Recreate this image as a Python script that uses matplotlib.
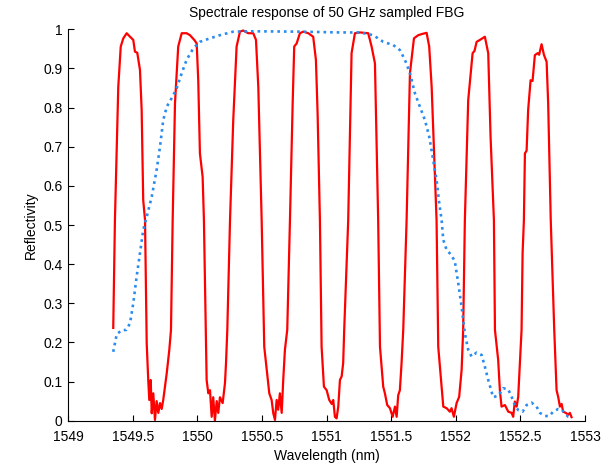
import matplotlib
matplotlib.use("Agg")
import matplotlib.pyplot as plt

# sampled FBG reflectivity (red)
wl_fbg = [1549.348, 1549.361, 1549.387, 1549.406, 1549.426, 1549.452, 1549.478,
          1549.503, 1549.516, 1549.534, 1549.555, 1549.568, 1549.580, 1549.594,
          1549.607, 1549.619, 1549.627, 1549.638, 1549.646, 1549.658, 1549.671,
          1549.684, 1549.697, 1549.710, 1549.723, 1549.735, 1549.762, 1549.782,
          1549.795,
          1549.808, 1549.826, 1549.851, 1549.878, 1549.916, 1549.942, 1549.975,
          1549.994, 1550.006, 1550.019, 1550.040, 1550.050,
          1550.071, 1550.084, 1550.097, 1550.110, 1550.122, 1550.135, 1550.149,
          1550.161, 1550.174, 1550.195, 1550.213, 1550.221, 1550.231,
          1550.252, 1550.277, 1550.303, 1550.329, 1550.354, 1550.393, 1550.432,
          1550.453, 1550.471, 1550.497,
          1550.517, 1550.536, 1550.556, 1550.574, 1550.587, 1550.600, 1550.613,
          1550.625, 1550.638, 1550.652, 1550.664, 1550.677, 1550.695,
          1550.716, 1550.737, 1550.749, 1550.768, 1550.793, 1550.819, 1550.858,
          1550.896, 1550.917, 1550.930, 1550.948,
          1550.961, 1550.979, 1551.000, 1551.020, 1551.039, 1551.051, 1551.064,
          1551.077, 1551.090, 1551.103, 1551.116, 1551.128, 1551.136,
          1551.167, 1551.193, 1551.219, 1551.258, 1551.322, 1551.348, 1551.374,
          1551.399,
          1551.413, 1551.438, 1551.451, 1551.469, 1551.490, 1551.511, 1551.529,
          1551.542, 1551.554, 1551.567, 1551.580, 1551.593,
          1551.619, 1551.645, 1551.676, 1551.709, 1551.738, 1551.774, 1551.794,
          1551.813, 1551.851,
          1551.864, 1551.890, 1551.903, 1551.929, 1551.954, 1551.967, 1551.985,
          1552.006, 1552.026, 1552.045, 1552.057,
          1552.070, 1552.096, 1552.130, 1552.145, 1552.161, 1552.187, 1552.225,
          1552.251, 1552.269, 1552.295,
          1552.303, 1552.328, 1552.341, 1552.354, 1552.380, 1552.406, 1552.432,
          1552.444, 1552.457, 1552.471, 1552.483, 1552.496, 1552.509,
          1552.517, 1552.527, 1552.535, 1552.548, 1552.560, 1552.579, 1552.594,
          1552.612, 1552.633, 1552.645, 1552.664, 1552.682, 1552.703, 1552.715,
          1552.735,
          1552.762, 1552.780, 1552.793, 1552.806, 1552.819, 1552.831, 1552.852,
          1552.870, 1552.883, 1552.896]
r_fbg = [0.237, 0.512, 0.853, 0.956, 0.977, 0.990, 0.981,
         0.973, 0.943, 0.940, 0.896, 0.794, 0.564, 0.513,
         0.198, 0.104, 0.053, 0.104, 0.019, 0.070, 0.002,
         0.050, 0.020, 0.045, 0.030, 0.053, 0.121, 0.181,
         0.232,
         0.512, 0.811, 0.956, 0.990, 0.990, 0.985, 0.973,
         0.964, 0.870, 0.683, 0.623, 0.513,
         0.104, 0.070, 0.078, 0.010, 0.060, 0.000, 0.050,
         0.020, 0.060, 0.045, 0.096, 0.147, 0.232,
         0.512, 0.768, 0.956, 0.994, 0.997, 0.990, 0.990,
         0.973, 0.853, 0.512,
         0.189, 0.130, 0.070, 0.053, 0.019, 0.002, 0.053,
         0.028, 0.070, 0.020, 0.104, 0.181, 0.232,
         0.512, 0.811, 0.956, 0.964, 0.990, 0.994, 0.990,
         0.981, 0.922, 0.786, 0.512,
         0.189, 0.087, 0.078, 0.053, 0.043, 0.053, 0.010,
         0.006, 0.036, 0.104, 0.113, 0.147, 0.232,
         0.512, 0.939, 0.990, 0.992, 0.990, 0.956, 0.913,
         0.512,
         0.189, 0.087, 0.070, 0.040, 0.032, 0.010, 0.036,
         0.010, 0.065, 0.078, 0.147, 0.232,
         0.512, 0.888, 0.977, 0.985, 0.988, 0.991, 0.956,
         0.853, 0.512,
         0.189, 0.087, 0.036, 0.032, 0.023, 0.032, 0.010,
         0.045, 0.061, 0.130, 0.232,
         0.512, 0.819, 0.939, 0.945, 0.968, 0.973, 0.981,
         0.939, 0.726, 0.512,
         0.232, 0.155, 0.078, 0.036, 0.040, 0.023, 0.020,
         0.010, 0.049, 0.036, 0.061, 0.147, 0.232,
         0.428, 0.512, 0.683, 0.690, 0.794, 0.870, 0.868,
         0.934, 0.939, 0.935, 0.962, 0.935, 0.917, 0.811,
         0.512,
         0.232, 0.078, 0.060, 0.036, 0.043, 0.023, 0.020,
         0.015, 0.020, 0.009]

# 50 GHz sampled envelope (blue dotted)
wl_env = [1549.348, 1549.375, 1549.413, 1549.449, 1549.478, 1549.503, 1549.529,
          1549.555, 1549.580, 1549.607, 1549.646, 1549.684, 1549.710, 1549.735,
          1549.762, 1549.800, 1549.839, 1549.878, 1549.916, 1549.967, 1550.019,
          1550.097, 1550.174, 1550.277, 1550.406, 1550.793, 1551.103, 1551.258,
          1551.361, 1551.438, 1551.515, 1551.567, 1551.606, 1551.645, 1551.683,
          1551.722, 1551.761, 1551.794, 1551.825, 1551.851, 1551.872, 1551.890,
          1551.903, 1551.929, 1551.967, 1551.993, 1552.019, 1552.045, 1552.070,
          1552.096, 1552.122, 1552.161, 1552.200, 1552.225, 1552.251, 1552.289,
          1552.328, 1552.367, 1552.406, 1552.432, 1552.457, 1552.483, 1552.517,
          1552.548, 1552.587, 1552.625, 1552.651, 1552.690, 1552.723, 1552.754,
          1552.793, 1552.821, 1552.844, 1552.870, 1552.889]
r_env = [0.176, 0.221, 0.231, 0.232, 0.249, 0.300, 0.368,
         0.428, 0.487, 0.521, 0.572, 0.641, 0.700, 0.768,
         0.802, 0.824, 0.849, 0.888, 0.922, 0.951, 0.968,
         0.977, 0.985, 0.994, 0.995, 0.994, 0.992, 0.992,
         0.985, 0.968, 0.960, 0.947, 0.922, 0.888, 0.837,
         0.802, 0.768, 0.726, 0.666, 0.615, 0.555, 0.513,
         0.462, 0.436, 0.423, 0.406, 0.351, 0.291, 0.223,
         0.181, 0.164, 0.174, 0.168, 0.138, 0.104, 0.060,
         0.064, 0.083, 0.080, 0.061, 0.040, 0.027, 0.023,
         0.040, 0.046, 0.036, 0.020, 0.012, 0.012, 0.023,
         0.030, 0.028, 0.019, 0.010, 0.009]

x_ticks = [1549, 1549.5, 1550, 1550.5, 1551, 1551.5, 1552, 1552.5, 1553]
x_labels = ["1549", "1549.5", "1550", "1550.5", "1551", "1551.5", "1552", "1552.5", "1553"]
y_ticks = [0, 0.1, 0.2, 0.3, 0.4, 0.5, 0.6, 0.7, 0.8, 0.9, 1]
y_labels = ["0", "0.1", "0.2", "0.3", "0.4", "0.5", "0.6", "0.7", "0.8", "0.9", "1"]

plt.rcParams["font.family"] = ["Liberation Sans", "DejaVu Sans"]

fig = plt.figure(figsize=(6.13, 4.66), dpi=100)
ax = fig.add_axes([0.1114, 0.0972, 0.8429, 0.8399])

ax.plot(wl_fbg, r_fbg, color="#ff0000", linewidth=1.6)
ax.plot(wl_env, r_env, color="#2a8cee", linewidth=1.9, linestyle=(0, (1, 1.5)))

ax.set_xlim(1549, 1553)
ax.set_ylim(0, 1)
ax.set_xticks(x_ticks)
ax.set_xticklabels(x_labels)
ax.set_yticks(y_ticks)
ax.set_yticklabels(y_labels)
ax.tick_params(direction="in", length=4, width=0.8, labelsize=10)
ax.tick_params(axis="x", pad=7)
ax.tick_params(axis="y", pad=4)
ax.spines["top"].set_visible(False)
ax.spines["right"].set_visible(False)

ax.set_xlabel("Wavelength (nm)", fontsize=10, labelpad=3)
ax.set_ylabel("Reflectivity", fontsize=10, labelpad=4)
ax.set_title("Spectrale response of 50 GHz sampled FBG", fontsize=10, pad=9)

fig.savefig("out.png", dpi=100)
